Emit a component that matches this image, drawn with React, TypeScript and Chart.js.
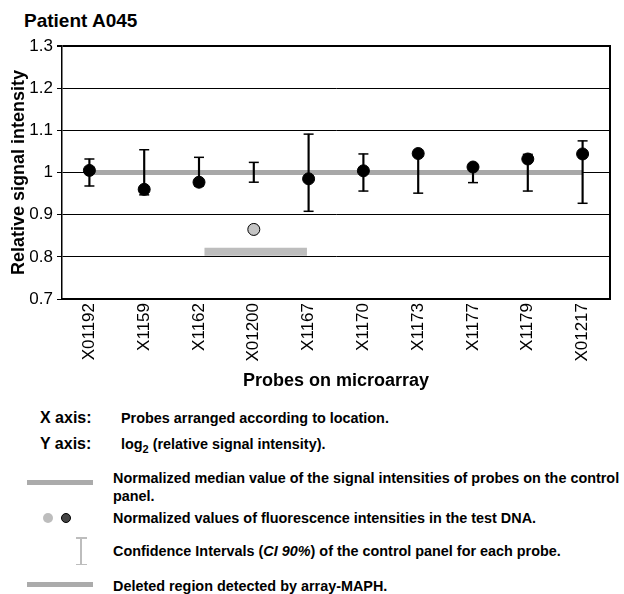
import React, { useEffect, useRef } from "react";
import { Chart, registerables } from "chart.js";

Chart.register(...registerables);

// ---- data ----
const probes = ["X01192", "X1159", "X1162", "X01200", "X1167", "X1170", "X1173", "X1177", "X1179", "X01217"];
const testValues = [1.005, 0.96, 0.977, 0.865, 0.985, 1.004, 1.045, 1.013, 1.032, 1.044];
const ciLow = [0.968, 0.947, 0.968, 0.977, 0.908, 0.956, 0.951, 0.976, 0.956, 0.927];
const ciHigh = [1.032, 1.054, 1.036, 1.024, 1.091, 1.044, 1.04, 1.02, 1.043, 1.075];
const medianValues = [1, 1, 1, 1, 1, 1, 1, 1, 1, 1];
const deletedProbes = ["X01200"];
const deletedRegionFrom = 2.1; // position along the probe axis (probe index)
const deletedRegionTo = 3.97;
const deletedRegionLevel = 0.812;
const yTicks = [0.7, 0.8, 0.9, 1.0, 1.1, 1.2, 1.3];
const yTickLabels = ["0.7", "0.8", "0.9", "1", "1.1", "1.2", "1.3"];

const FONT = "'Liberation Sans', Arial, Helvetica, sans-serif";

function ChartPanel() {
  const ref = useRef<HTMLCanvasElement | null>(null);
  useEffect(() => {
    if (!ref.current) return;
    const pointColors = probes.map((p) => (deletedProbes.includes(p) ? "#c4c4c4" : "#000000"));
    const chart = new Chart(ref.current, {
      type: "scatter",
      data: {
        datasets: [
          {
            type: "line",
            label: "median",
            data: medianValues.map((v, i) => ({ x: i, y: v })),
            borderColor: "#a8a8a8",
            borderWidth: 5,
            pointRadius: 0,
            borderCapStyle: "butt",
            order: 6,
          } as any,
          {
            type: "line",
            label: "deleted",
            data: [
              { x: deletedRegionFrom, y: deletedRegionLevel },
              { x: deletedRegionTo, y: deletedRegionLevel },
            ],
            borderColor: "#bdbdbd",
            borderWidth: 8,
            pointRadius: 0,
            borderCapStyle: "butt",
            order: 5,
          } as any,
          {
            type: "bar",
            label: "ci",
            data: probes.map((_, i) => ({ x: i, y: [ciLow[i], ciHigh[i]] })),
            backgroundColor: "#000000",
            borderWidth: 0,
            barThickness: 1.5,
            order: 4,
          } as any,
          {
            type: "scatter",
            label: "ciHigh",
            data: ciHigh.map((v, i) => ({ x: i, y: v })),
            pointStyle: "line",
            pointRadius: 5,
            borderColor: "#000000",
            borderWidth: 1.5,
            order: 3,
          } as any,
          {
            type: "scatter",
            label: "ciLow",
            data: ciLow.map((v, i) => ({ x: i, y: v })),
            pointStyle: "line",
            pointRadius: 5,
            borderColor: "#000000",
            borderWidth: 1.5,
            order: 2,
          } as any,
          {
            type: "scatter",
            label: "test",
            data: testValues.map((v, i) => ({ x: i, y: v })),
            pointRadius: 6,
            backgroundColor: pointColors,
            borderColor: "#000000",
            borderWidth: 1,
            order: 1,
          } as any,
        ],
      },
      options: {
        responsive: false,
        animation: false,
        devicePixelRatio: 1,
        events: [],
        layout: { padding: { left: 8, right: 14, top: 16, bottom: 0 } },
        plugins: {
          legend: { display: false },
          tooltip: { enabled: false },
          title: { display: false },
        },
        scales: {
          x: {
            type: "linear",
            min: -0.5,
            max: 9.5,
            offset: false,
            afterBuildTicks: (s: any) => {
              s.ticks = probes.map((_, i) => ({ value: i }));
            },
            afterFit: (s: any) => {
              s.height = 101;
            },
            grid: { display: false, drawTicks: false },
            border: { display: true, color: "#000000", width: 2 },
            ticks: {
              autoSkip: false,
              minRotation: 90,
              maxRotation: 90,
              padding: 4,
              color: "#000000",
              font: { family: FONT, size: 17 },
              callback: (v: any) => probes[Math.round(Number(v))] ?? "",
            },
            title: {
              display: true,
              text: "Probes on microarray",
              color: "#000000",
              font: { family: FONT, size: 18, weight: "bold" },
              padding: { top: 0, bottom: 8 },
            },
          },
          y: {
            type: "linear",
            min: 0.7,
            max: 1.3,
            afterBuildTicks: (s: any) => {
              s.ticks = yTicks.map((v) => ({ value: v }));
            },
            afterFit: (s: any) => {
              s.width = 54;
            },
            grid: {
              color: "#000000",
              lineWidth: (ctx: any) => (ctx.tick && ctx.tick.value > 1.29 ? 2 : 1),
              drawTicks: true,
              tickLength: 5,
            },
            border: { display: true, color: "#000000", width: 1.5 },
            ticks: {
              padding: 4,
              color: "#000000",
              font: { family: FONT, size: 17 },
              callback: (_v: any, i: number) => yTickLabels[i],
            },
            title: {
              display: true,
              text: "Relative signal intensity",
              color: "#000000",
              font: { family: FONT, size: 18, weight: "bold" },
              padding: { top: 0, bottom: 0 },
            },
          },
          yRight: {
            type: "linear",
            position: "right",
            min: 0.7,
            max: 1.3,
            display: true,
            grid: { display: false, drawTicks: false },
            ticks: { display: false },
            border: { display: true, color: "#000000", width: 2 },
            afterFit: (s: any) => {
              s.width = 0;
            },
          },
        },
      } as any,
    });
    return () => chart.destroy();
  }, []);
  return <canvas ref={ref} width={624} height={370} style={{ display: "block" }} />;
}

const txt14: React.CSSProperties = {
  position: "absolute",
  fontFamily: FONT,
  fontWeight: "bold",
  fontSize: 14.4,
  lineHeight: "18px",
  whiteSpace: "nowrap",
  color: "#000",
};

export default function App() {
  return (
    <div style={{ position: "absolute", left: 0, top: 0, width: 624, height: 594, background: "#fff", overflow: "hidden" }}>
      <div
        style={{
          position: "absolute",
          left: 24,
          top: 11,
          fontFamily: FONT,
          fontWeight: "bold",
          fontSize: 19,
          lineHeight: "19px",
          whiteSpace: "nowrap",
        }}
      >
        Patient A045
      </div>
      <div style={{ position: "absolute", left: 0, top: 30, width: 624, height: 370 }}>
        <ChartPanel />
      </div>

      <div style={{ ...txt14, left: 40, top: 409, fontSize: 16 }}>X axis:</div>
      <div style={{ ...txt14, left: 121, top: 409 }}>Probes arranged according to location.</div>
      <div style={{ ...txt14, left: 40, top: 435, fontSize: 16 }}>Y axis:</div>
      <div style={{ ...txt14, left: 121, top: 435 }}>
        log<sub style={{ fontSize: 11, verticalAlign: "-4px", lineHeight: 0 }}>2</sub> (relative signal intensity).
      </div>

      <div style={{ position: "absolute", left: 27, top: 480, width: 66, height: 5, background: "#ababab" }} />
      <div style={{ ...txt14, left: 113, top: 469 }}>
        Normalized median value of the signal intensities of probes on the control
        <br />
        panel.
      </div>

      <div style={{ position: "absolute", left: 43, top: 513, width: 10, height: 10, borderRadius: 5, background: "#bdbdbd" }} />
      <div
        style={{
          position: "absolute",
          left: 60.5,
          top: 512.5,
          width: 8,
          height: 8,
          borderRadius: 6,
          background: "#444",
          border: "1.5px solid #000",
        }}
      />
      <div style={{ ...txt14, left: 113, top: 509 }}>Normalized values of fluorescence intensities in the test DNA.</div>

      <div style={{ position: "absolute", left: 80.25, top: 537, width: 1.5, height: 28, background: "#bdbdbd" }} />
      <div style={{ position: "absolute", left: 75.5, top: 537, width: 11, height: 1.5, background: "#bdbdbd" }} />
      <div style={{ position: "absolute", left: 75.5, top: 563.5, width: 11, height: 1.5, background: "#bdbdbd" }} />
      <div style={{ ...txt14, left: 113, top: 542 }}>
        Confidence Intervals (<i>CI 90%</i>) of the control panel for each probe.
      </div>

      <div style={{ position: "absolute", left: 27, top: 581.5, width: 66, height: 5, background: "#ababab" }} />
      <div style={{ ...txt14, left: 113, top: 577 }}>Deleted region detected by array-MAPH.</div>
    </div>
  );
}
